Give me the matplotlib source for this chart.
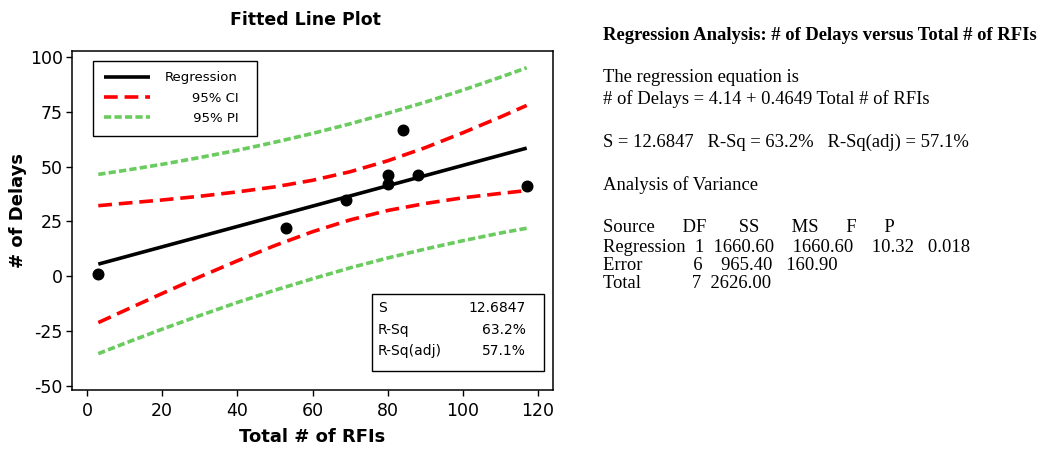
"""Fitted line plot of delays vs RFIs with the regression report beside it"""

import matplotlib
matplotlib.use("Agg")
from matplotlib import pyplot as plt
from matplotlib.patches import Rectangle

# observed points
rfis = [3, 53, 69, 80, 80, 84, 88, 117]
delays = [1, 22, 35, 46, 42, 67, 46, 41]

# fitted line end points
fit_x = [3, 117]
fit_y = [5.5, 58.5]

# confidence / prediction bands
band_x = [3, 10, 20, 30, 40, 50, 60, 70, 80, 90, 100, 110, 117]
ci_lo = [-21.2, -15.7, -7.9, -0.3, 7.0, 14.0, 20.3, 25.7, 30.0, 33.2, 35.8, 37.8, 39.1]
ci_hi = [32.2, 33.3, 34.8, 36.5, 38.5, 40.8, 43.8, 47.7, 52.7, 58.7, 65.5, 72.7, 78.0]
pi_lo = [-35.4, -30.7, -24.2, -18.0, -12.0, -6.4, -1.2, 3.8, 8.3, 12.4, 16.2, 19.7, 21.9]
pi_hi = [46.5, 48.3, 51.1, 54.2, 57.5, 61.2, 65.2, 69.6, 74.4, 79.5, 85.0, 90.9, 95.2]

x_ticks = [0, 20, 40, 60, 80, 100, 120]
y_ticks = [-50, -25, 0, 25, 50, 75, 100]

stats_labels = ['S', 'R-Sq', 'R-Sq(adj)']
stats_values = ['12.6847', '63.2%', '57.1%']

report_title = 'Regression Analysis: # of Delays versus Total # of RFIs'
report_lines = [
    'The regression equation is',
    '# of Delays = 4.14 + 0.4649 Total # of RFIs',
    'S = 12.6847   R-Sq = 63.2%   R-Sq(adj) = 57.1%',
    'Analysis of Variance',
    'Source      DF       SS       MS      F      P',
    'Regression  1  1660.60    1660.60    10.32   0.018',
    'Error           6    965.40   160.90',
    'Total           7  2626.00',
]
report_y = [77, 99, 142, 185.5, 227, 247, 265.5, 284]

RED = '#ff0000'
GREEN = '#6acb5e'

plt.rcParams['font.family'] = 'DejaVu Sans'
plt.rcParams['axes.unicode_minus'] = False

fig = plt.figure(figsize=(10.42, 4.5), dpi=100)
W, H = 1042.0, 450.0
ax = fig.add_axes([72 / W, 1 - 390 / H, 481 / W, 339.3 / H])

reg_line, = ax.plot(fit_x, fit_y, color='black', lw=2.6, solid_capstyle='butt')
ci_line, = ax.plot(band_x, ci_hi, color=RED, lw=2.6, dashes=(3.8, 1.9))
ax.plot(band_x, ci_lo, color=RED, lw=2.6, dashes=(3.8, 1.9))
pi_line, = ax.plot(band_x, pi_hi, color=GREEN, lw=2.6, dashes=(2.0, 0.9))
ax.plot(band_x, pi_lo, color=GREEN, lw=2.6, dashes=(2.0, 0.9))
ax.scatter(rfis, delays, s=58, color='black', zorder=5)

ax.set_xlim(-4, 124)
ax.set_ylim(-52, 103)
ax.set_xticks(x_ticks)
ax.set_yticks(y_ticks)
ax.tick_params(labelsize=12.5, length=4.5, width=1, direction='out')
ax.tick_params(axis='x', pad=4)
ax.tick_params(axis='y', pad=2)
for sp in ax.spines.values():
    sp.set_linewidth(1.1)

ax.set_xlabel('Total # of RFIs', fontsize=13, fontweight='bold', labelpad=6)
ax.set_ylabel('# of Delays', fontsize=13, fontweight='bold')
ax.yaxis.set_label_coords(-0.094, 0.53)
fig.text(305 / W, 1 - 20 / H, 'Fitted Line Plot', fontsize=12.5,
         fontweight='bold', ha='center', va='center')

leg = ax.legend([reg_line, ci_line, pi_line],
                ['Regression', '      \u200a95% CI', '      \u200995% PI'],
                loc='upper left', bbox_to_anchor=(0.0443, 0.741, 0.341, 0.229),
                mode='expand', borderaxespad=0, fontsize=9.5, fancybox=False,
                framealpha=1, edgecolor='black', handlelength=3.5,
                handletextpad=1.1, labelspacing=0.55, borderpad=0.8)
leg.get_frame().set_linewidth(1.0)

# stats box
ax.add_patch(Rectangle((0.624, 0.056), 0.357, 0.228, transform=ax.transAxes,
                       fill=False, edgecolor='black', lw=1.0, zorder=6))
for lab, val, yy in zip(stats_labels, stats_values, [0.2426, 0.1768, 0.115]):
    ax.text(0.636, yy, lab, transform=ax.transAxes, fontsize=10,
            ha='left', va='center')
    ax.text(0.943, yy, val, transform=ax.transAxes, fontsize=10,
            ha='right', va='center')

# text report on the right
serif = 'Liberation Serif'
fig.text(603 / W, 1 - 35 / H, report_title, family=serif, fontsize=13.4,
         fontweight='bold', ha='left', va='center')
for line, yy in zip(report_lines, report_y):
    fig.text(603 / W, 1 - yy / H, line, family=serif, fontsize=13.4,
             ha='left', va='center')

plt.savefig('out.png', dpi=100)
